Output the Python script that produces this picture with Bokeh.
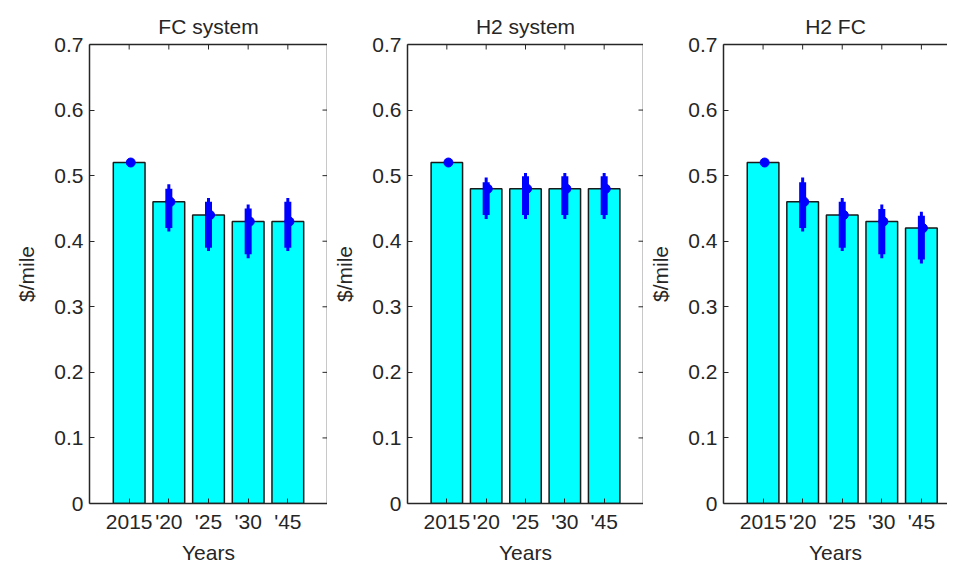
import math
from bokeh.plotting import figure
from bokeh.models import Range1d, FixedTicker, LinearAxis
from bokeh.transform import dodge
from bokeh.layouts import row
from bokeh.embed import file_html
from bokeh.resources import INLINE

# ---- data ----
years = ["2015", "'20", "'25", "'30", "'45"]
x_pos = [1, 2, 3, 4, 5]
err_x = [2, 3, 4, 5]
y_ticks = [0, 0.1, 0.2, 0.3, 0.4, 0.5, 0.6, 0.7]
titles = ["FC system", "H2 system", "H2 FC"]

fc_cost = [0.52, 0.46, 0.44, 0.43, 0.43]
fc_thin_lo = [0.415, 0.385, 0.374, 0.385]
fc_thin_hi = [0.487, 0.466, 0.456, 0.466]
fc_thick_lo = [0.420, 0.390, 0.380, 0.390]
fc_thick_hi = [0.480, 0.460, 0.450, 0.460]

h2_cost = [0.52, 0.48, 0.48, 0.48, 0.48]
h2_thin_lo = [0.434, 0.434, 0.434, 0.434]
h2_thin_hi = [0.497, 0.504, 0.504, 0.504]
h2_thick_lo = [0.440, 0.440, 0.440, 0.440]
h2_thick_hi = [0.490, 0.499, 0.499, 0.499]

h2fc_cost = [0.52, 0.46, 0.44, 0.43, 0.42]
h2fc_thin_lo = [0.415, 0.385, 0.374, 0.366]
h2fc_thin_hi = [0.497, 0.466, 0.456, 0.445]
h2fc_thick_lo = [0.420, 0.390, 0.380, 0.372]
h2fc_thick_hi = [0.490, 0.460, 0.449, 0.439]

FONT = "Liberation Sans"
TXT = "#262626"
AX = "#262626"
FS = "21px"


def make_panel(title, cost, thin_lo, thin_hi, thick_lo, thick_hi,
               frame_w, x_end, border_left, right_axis=True):
    p = figure(frame_width=frame_w, frame_height=459,
               x_range=Range1d(0, x_end), y_range=Range1d(0, 0.7),
               output_backend="svg", toolbar_location=None,
               min_border_left=border_left, min_border_right=0,
               min_border_top=44, min_border_bottom=60)
    p.outline_line_color = None
    p.xgrid.visible = False
    p.ygrid.visible = False

    p.title.text = title
    p.title.align = "center"
    p.title.vertical_align = "top"
    p.title.text_font = FONT
    p.title.text_font_size = FS
    p.title.text_font_style = "normal"
    p.title.text_color = TXT
    p.title.standoff = 9

    p.vbar(x=x_pos, top=cost, width=0.8, bottom=0,
           fill_color="#00FFFF", line_color="#1a1a1a", line_width=1.5)
    p.segment(x0=err_x, x1=err_x, y0=thin_lo, y1=thin_hi,
              line_color="#0000FF", line_width=3)
    p.segment(x0=err_x, x1=err_x, y0=thick_lo, y1=thick_hi,
              line_color="#0000FF", line_width=7)
    p.scatter(x=dodge("x", 0.04), y="y", source=dict(x=x_pos, y=cost),
              size=9, fill_color="#0000FF", line_color="#0000FF")

    # inward box ticks on top and right edges
    p.ray(x=x_pos, y=[0.7] * len(x_pos), length=5, length_units="screen",
          angle=-math.pi / 2, line_color=AX, line_width=1)
    if right_axis:
        p.ray(x=[x_end] * len(y_ticks), y=y_ticks, length=5, length_units="screen",
              angle=math.pi, line_color=AX, line_width=1)

    xa = p.xaxis[0]
    xa.ticker = FixedTicker(ticks=x_pos)
    xa.major_label_overrides = {x: s for x, s in zip(x_pos, years)}
    xa.axis_label = "Years"
    ya = p.yaxis[0]
    ya.ticker = FixedTicker(ticks=y_ticks)
    ya.major_label_overrides = {0: "0"}
    ya.axis_label = "$/mile"
    for a in (xa, ya):
        a.major_tick_in = 5
        a.major_tick_out = 0
        a.minor_tick_in = 0
        a.minor_tick_out = 0
        a.axis_line_color = AX
        a.axis_line_width = 1.5
        a.major_tick_line_color = AX
        a.major_label_text_font = FONT
        a.major_label_text_font_size = FS
        a.major_label_text_color = TXT
        a.axis_label_text_font = FONT
        a.axis_label_text_font_size = FS
        a.axis_label_text_font_style = "normal"
        a.axis_label_text_color = TXT
        a.major_label_standoff = 6
        a.axis_label_standoff = 5
    ya.axis_label_standoff = 13

    def edge_axis():
        return LinearAxis(ticker=FixedTicker(ticks=[]),
                          major_label_standoff=0,
                          major_tick_in=0, major_tick_out=0,
                          minor_tick_in=0, minor_tick_out=0,
                          axis_line_color=AX, axis_line_width=1.5)

    p.add_layout(edge_axis(), "above")
    if right_axis:
        p.add_layout(edge_axis(), "right")
    return p


p1 = make_panel(titles[0], fc_cost, fc_thin_lo, fc_thin_hi, fc_thick_lo, fc_thick_hi,
                238, 6, 89)
p2 = make_panel(titles[1], h2_cost, h2_thin_lo, h2_thin_hi, h2_thick_lo, h2_thick_hi,
                236, 6, 80)
p3 = make_panel(titles[2], h2fc_cost, h2fc_thin_lo, h2fc_thin_hi, h2fc_thick_lo, h2fc_thick_hi,
                224, 5.66, 80, right_axis=False)

layout = row(p1, p2, p3)
open("out.html", "w").write(file_html(layout, INLINE))
